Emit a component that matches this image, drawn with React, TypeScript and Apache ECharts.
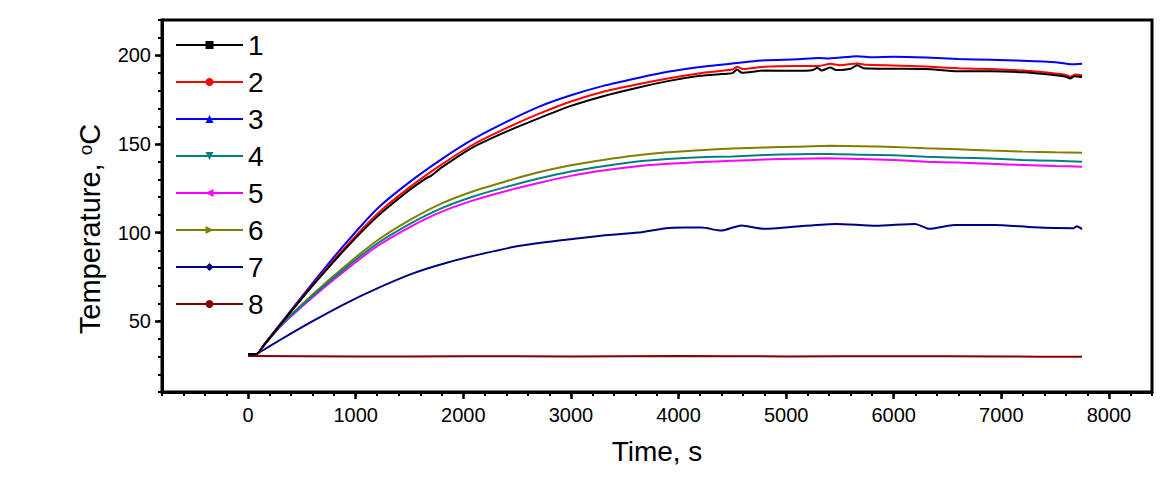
import React, { useEffect, useRef } from 'react';
import * as echarts from 'echarts';

const FONT = 'Liberation Sans, Arial, sans-serif';

const seriesNames = ['1', '2', '3', '4', '5', '6', '7', '8'];
const seriesColors = ['#000000', '#ff0000', '#0000ff', '#008080', '#ff00ff', '#808000', '#000080', '#800000'];
const seriesSymbols = ['rect', 'circle', 'triangle', 'triangle', 'triangle', 'triangle', 'diamond', 'circle'];
const seriesSymbolRotate = [0, 0, 0, 180, 90, -90, 0, 0];

const xMajorTicks = [0, 1000, 2000, 3000, 4000, 5000, 6000, 7000, 8000];
const yMajorTicks = [50, 100, 150, 200];

// [time s, temperature °C]
const s1 = [
  [0, 31.5], [80, 31.5], [150, 36.7], [300, 48], [600, 70], [900, 90.5], [1200, 109], [1500, 124], [1650, 130.5], [1700, 132],
  [1800, 136.8], [2100, 148.5], [2400, 157], [2700, 164.5], [3000, 171.5], [3300, 177], [3600, 181.5], [3900, 185.5],
  [4200, 188.5], [4400, 189.5], [4500, 190], [4543, 192], [4590, 190.2], [4800, 191.5], [5100, 191.3], [5250, 191.8],
  [5290, 193], [5330, 191.5], [5411, 193.2], [5460, 191.8], [5600, 192.5], [5659, 194.5], [5720, 192.8], [6000, 192.5],
  [6300, 192.3], [6600, 191], [6900, 191], [7200, 190.5], [7400, 189.5], [7600, 188], [7640, 187], [7680, 188.2], [7750, 187.8],
];
const s2 = [
  [0, 31.5], [80, 31.5], [150, 36.8], [300, 48.2], [600, 70.5], [900, 91.5], [1200, 110.5], [1500, 125.5], [1800, 138.5], [2100, 150],
  [2400, 159], [2700, 167], [3000, 174], [3300, 179.5], [3600, 183.5], [3900, 187], [4200, 190], [4500, 192],
  [4543, 193.6], [4600, 192.3], [4800, 193.6], [5100, 194], [5300, 194], [5411, 195.3], [5500, 194.5], [5659, 195.5],
  [5750, 194.7], [6000, 194.3], [6300, 193.7], [6600, 192.8], [6900, 192.3], [7200, 191.5], [7400, 190.5], [7600, 189],
  [7640, 188], [7690, 189.2], [7750, 188.8],
];
const s3 = [
  [0, 31.5], [80, 31.5], [150, 36.9], [300, 48.5], [600, 71.5], [900, 93.5], [1200, 113.5], [1500, 128.5], [1800, 141.5], [2100, 153],
  [2400, 162.5], [2700, 171], [3000, 177.5], [3300, 182.8], [3600, 187], [3900, 190.8], [4200, 193.5], [4500, 195.5],
  [4800, 197.3], [5100, 197.8], [5300, 198.5], [5400, 198.3], [5660, 199.6], [5800, 199], [6000, 199.2], [6300, 198.8],
  [6600, 198], [6900, 197.5], [7200, 197], [7500, 196.2], [7650, 195], [7750, 195.3],
];
const s4 = [
  [0, 31.5], [80, 31.5], [150, 36.5], [300, 47.3], [600, 64.3], [900, 79.8], [1200, 93.8], [1500, 104.8], [1800, 113.8], [2100, 120.5],
  [2400, 125.8], [2700, 130.5], [3000, 134.5], [3300, 137.5], [3600, 140], [3900, 141.5], [4200, 142.5], [4500, 143],
  [4800, 143.8], [5100, 144.2], [5400, 144.4], [5700, 144], [6000, 143.6], [6300, 142.8], [6600, 142.3], [6900, 141.8],
  [7200, 141], [7500, 140.5], [7750, 140],
];
const s5 = [
  [0, 31.5], [80, 31.5], [150, 36.4], [300, 47], [600, 63.5], [900, 78.5], [1200, 92.3], [1500, 103], [1800, 111.8], [2100, 118.3],
  [2400, 123.5], [2700, 128], [3000, 132], [3300, 135], [3600, 137.3], [3900, 138.8], [4200, 139.8], [4500, 140.5],
  [4800, 141.2], [5100, 141.7], [5400, 141.9], [5700, 141.5], [6000, 141], [6300, 140], [6600, 139.5], [6900, 138.8],
  [7200, 138.2], [7500, 137.6], [7750, 137.2],
];
const s6 = [
  [0, 31.5], [80, 31.5], [150, 36.6], [300, 47.5], [600, 65], [900, 81], [1200, 95.5], [1500, 107], [1800, 116.5], [2100, 123.5],
  [2400, 129], [2700, 134], [3000, 138], [3300, 141], [3600, 143.5], [3900, 145.3], [4200, 146.5], [4500, 147.5],
  [4800, 148], [5100, 148.5], [5400, 149], [5700, 148.8], [6000, 148.3], [6300, 147.6], [6600, 147], [6900, 146.3],
  [7200, 145.7], [7500, 145.3], [7750, 145.1],
];
const s7 = [
  [0, 31], [80, 31.5], [150, 34], [300, 39.5], [600, 50], [900, 59.8], [1200, 68.5], [1520, 76.7], [1830, 82.7], [2202, 88.4],
  [2523, 92.5], [2890, 95.5], [3259, 98.1], [3626, 100], [3884, 102.5], [4050, 102.8], [4214, 102.8], [4398, 101.1],
  [4582, 104], [4803, 102.1], [5097, 103.4], [5464, 104.9], [5833, 103.8], [6200, 104.9], [6328, 102.1], [6567, 104.3],
  [6935, 104.3], [7303, 103], [7671, 102.5], [7700, 103.5], [7750, 102],
];
const s8 = [
  [0, 30.3], [1000, 30], [2000, 30.2], [3000, 30.1], [4000, 30.3], [5000, 30.1], [6000, 30.2], [7000, 30], [7750, 29.9],
];
const seriesData = [s1, s2, s3, s4, s5, s6, s7, s8];

export default function App() {
  const ref = useRef<HTMLDivElement>(null);
  useEffect(() => {
    const chart = echarts.init(ref.current as HTMLDivElement, null, { renderer: 'svg' });
    const axisText = { color: '#000', fontSize: 20, fontFamily: FONT };
    const option: any = {
      animation: false,
      backgroundColor: '#fff',
      grid: {
        left: 162, right: 23, top: 20, bottom: 89,
        show: true, borderColor: '#000', borderWidth: 3, backgroundColor: 'transparent',
      },
      legend: {
        orient: 'vertical', left: 175, top: 31, padding: 0,
        itemWidth: 67, itemHeight: 10, itemGap: 9,
        textStyle: { color: '#000', fontSize: 28, fontFamily: FONT, lineHeight: 28 },
        data: seriesNames,
      },
      xAxis: [
        {
          type: 'value', min: -800, max: 8400, interval: 200,
          name: 'Time, s', nameLocation: 'middle', nameGap: 45,
          nameTextStyle: { color: '#000', fontSize: 28, fontFamily: FONT },
          axisLine: { show: true, onZero: false, lineStyle: { color: '#000', width: 3 } },
          axisTick: { show: true, length: 4, lineStyle: { color: '#000', width: 2 } },
          axisLabel: { ...axisText, margin: 13, formatter: (v: number) => (v % 1000 === 0 ? String(v) : '') },
          splitLine: { show: false },
        },
        {
          type: 'value', min: -800, max: 8400, position: 'bottom',
          axisLine: { show: false, onZero: false },
          axisTick: { show: true, length: 7, customValues: xMajorTicks, lineStyle: { color: '#000', width: 2.5 } },
          axisLabel: { show: false },
          splitLine: { show: false },
        },
      ],
      yAxis: [
        {
          type: 'value', min: 10, max: 220, interval: 10, position: 'left',
          axisLine: { show: true, onZero: false, lineStyle: { color: '#000', width: 3 } },
          axisTick: { show: true, length: 4, lineStyle: { color: '#000', width: 2 } },
          axisLabel: { ...axisText, margin: 11, formatter: (v: number) => (yMajorTicks.indexOf(v) >= 0 ? String(v) : '') },
          splitLine: { show: false },
        },
        {
          type: 'value', min: 10, max: 220, position: 'left', offset: 0,
          axisLine: { show: false, onZero: false },
          axisTick: { show: true, length: 7, customValues: yMajorTicks, lineStyle: { color: '#000', width: 2.5 } },
          axisLabel: { show: false },
          splitLine: { show: false },
        },
      ],
      graphic: [
        {
          type: 'text', x: 90, y: 229, rotation: Math.PI / 2,
          style: {
            text: '{a|Temperature, }{s|o}{a|C}',
            align: 'center', verticalAlign: 'middle',
            rich: {
              a: { fontSize: 29, fontFamily: FONT, fill: '#000', color: '#000' },
              s: { fontSize: 19, fontFamily: FONT, fill: '#000', color: '#000', verticalAlign: 'top' },
            },
          },
        },
      ],
      series: seriesData.map((d, i) => ({
        name: seriesNames[i],
        type: 'line',
        xAxisIndex: 0,
        yAxisIndex: 0,
        data: d,
        smooth: 0.2,
        showSymbol: false,
        symbol: seriesSymbols[i],
        symbolRotate: seriesSymbolRotate[i],
        symbolSize: 8,
        color: seriesColors[i],
        itemStyle: { color: seriesColors[i] },
        lineStyle: { color: seriesColors[i], width: 2 },
        z: 10 - i,
      })),
    };
    chart.setOption(option);
    return () => chart.dispose();
  }, []);
  return (
    <div
      ref={ref}
      style={{ position: 'fixed', left: 0, top: 0, width: 1175, height: 481, background: '#fff' }}
    />
  );
}
